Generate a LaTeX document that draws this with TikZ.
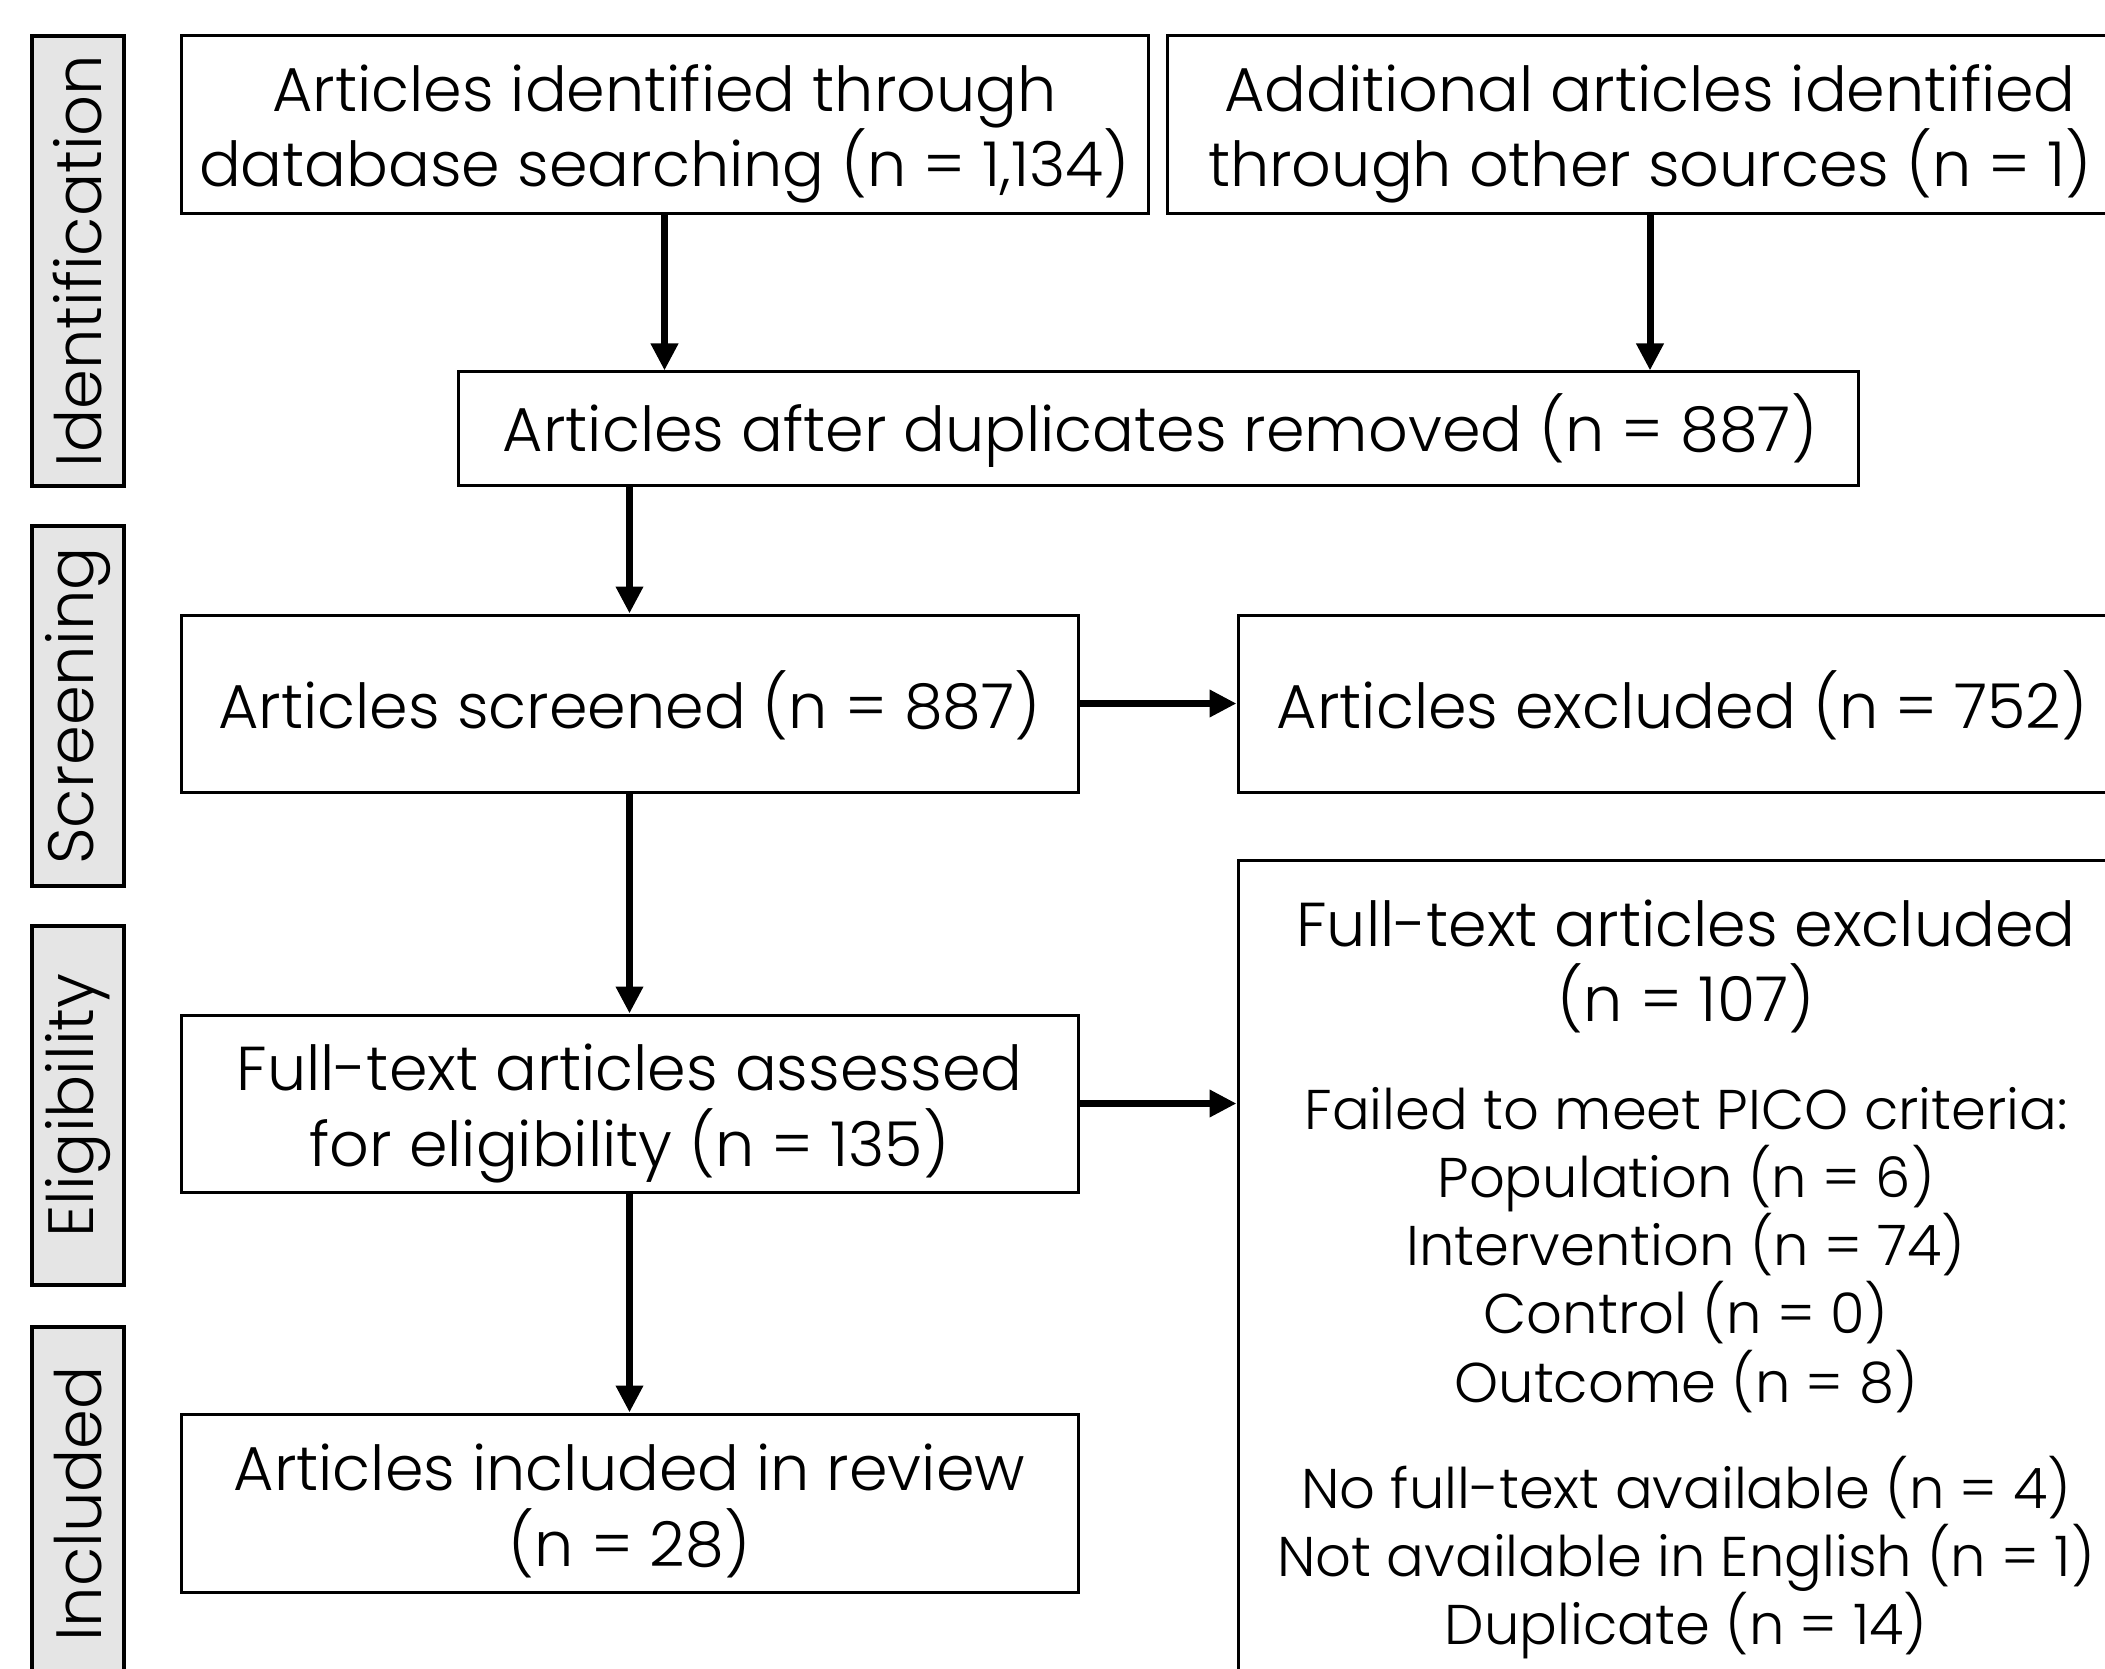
\documentclass[tikz,border=0pt]{standalone}
\usepackage{fontspec}
\setmainfont{Poppins}[UprightFont=*-Light]
\usetikzlibrary{arrows.meta,positioning,calc}
\definecolor{labelgray}{RGB}{229,229,229}
\tikzset{
  box/.style={draw=black, line width=3pt, fill=white, inner sep=0pt},
  phase/.style={draw=black, line width=4.5pt, fill=labelgray, inner sep=0pt},
  ptext/.style={rotate=90, font=\fontsize{64}{72}\selectfont, inner sep=0pt},
  btext/.style={anchor=base, inner sep=0pt, font=\fontsize{62}{75}\selectfont},
  ltext/.style={anchor=base, inner sep=0pt, font=\fontsize{56}{68}\selectfont},
  flow/.style={line width=7pt, -{Triangle[length=27pt,width=26pt]}},
}
\begin{document}
\begin{tikzpicture}[x=1pt,y=-1pt]
\useasboundingbox (0,0) rectangle (2105,1669);
% phase labels
\node[phase, minimum width=92pt, minimum height=450pt] (pid) at (78,261) {};
\node[ptext] (tid) at (pid.center) {Identification};
\node[phase, minimum width=92pt, minimum height=360pt] (pscr) at (78,706) {};
\node[ptext] (tscr) at (pscr.center) {Screening};
\node[phase, minimum width=92pt, minimum height=359pt] (pel) at (78,1105.5) {};
\node[ptext] (tel) at (pel.center) {Eligibility};
\node[phase, minimum width=92pt, minimum height=420pt] (pin) at (78,1537) {};
\node[ptext] (tin) at (78,1504) {Included};
% boxes
\node[box, minimum width=967pt, minimum height=178pt] (b1) at (664.5,125) {};
\node[btext] (b1a) at (664.5,112) {Articles identified through};
\node[btext] (b1b) at (664.5,187) {database searching (n = 1,134)};
\node[box, minimum width=966pt, minimum height=178pt] (b2) at (1650,125) {};
\node[btext] (b2a) at (1650,112) {Additional articles identified};
\node[btext] (b2b) at (1650,187) {through other sources (n = 1)};
\node[box, minimum width=1400pt, minimum height=113pt] (b3) at (1158,428.5) {};
\node[btext] (b3a) at (1160,452) {Articles after duplicates removed (n = 887)};
\node[box, minimum width=897pt, minimum height=177pt] (scr) at (629.5,703.5) {};
\node[btext] (scra) at (629.5,728.5) {Articles screened (n = 887)};
\node[box, minimum width=888pt, minimum height=177pt] (exc) at (1682,703.5) {};
\node[btext] (exca) at (1682,728.5) {Articles excluded (n = 752)};
\node[box, minimum width=897pt, minimum height=177pt] (ft) at (629.5,1103.5) {};
\node[btext] (fta) at (629.5,1090) {Full-text articles assessed};
\node[btext] (ftb) at (629.5,1166) {for eligibility (n = 135)};
\node[box, minimum width=897pt, minimum height=178pt] (inc) at (629.5,1503) {};
\node[btext] (inca) at (629.5,1490) {Articles included in review};
\node[btext] (incb) at (629.5,1566) {(n = 28)};
\node[box, minimum width=888pt, minimum height=900pt] (fex) at (1682,1310) {};
% text of the full-text excluded box
\node[btext] (l1) at (1686,946) {Full-text articles excluded};
\node[btext] (l2) at (1686,1021) {(n = 107)};
\node[ltext] (l3) at (1686,1129) {Failed to meet PICO criteria:};
\node[ltext] (l4) at (1686,1197) {Population (n = 6)};
\node[ltext] (l5) at (1686,1265) {Intervention (n = 74)};
\node[ltext] (l6) at (1686,1333) {Control (n = 0)};
\node[ltext] (l7) at (1686,1402) {Outcome (n = 8)};
\node[ltext] (l8) at (1686,1508) {No full-text available (n = 4)};
\node[ltext] (l9) at (1686,1576) {Not available in English (n = 1)};
\node[ltext] (l10) at (1686,1644) {Duplicate (n = 14)};
% connectors
\draw[flow] (b1.south) -- (b1.south |- b3.north);
\draw[flow] (b2.south) -- (b2.south |- b3.north);
\draw[flow] (scr.north |- b3.south) -- (scr.north);
\draw[flow] (scr.south) -- (ft.north);
\draw[flow] (ft.south) -- (inc.north);
\draw[flow] (scr.east) -- (scr.east -| fex.west);
\draw[flow] (ft.east) -- (ft.east -| fex.west);
\end{tikzpicture}
\end{document}
